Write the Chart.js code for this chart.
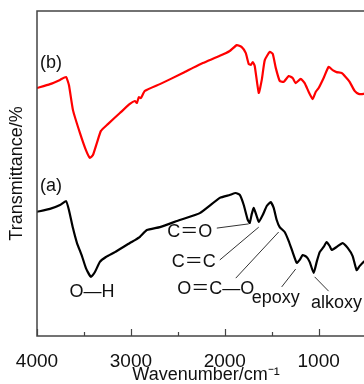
<!DOCTYPE html>
<html>
<head>
    <script src="https://cdn.jsdelivr.net/npm/chart.js@4.4.1/dist/chart.umd.min.js"></script>
    <style>
        html, body { margin: 0; padding: 0; background: #fff; overflow: hidden; }
        #wrap { width: 364px; height: 384px; overflow: hidden; }
    </style>
</head>
<body>
    <div id="wrap">
        <canvas id="ftir" width="380" height="384"></canvas>
    </div>

    <script>
        // wavenumber (cm-1) and transmittance (arbitrary, offset) for curve (b)
        const wavenumberB = [4000, 3862, 3755, 3691, 3660, 3617, 3543, 3479, 3436, 3404, 3362, 3319, 3245, 3117, 3011, 2957, 2936, 2915, 2894, 2851, 2691, 2447, 2340, 2234, 2053, 1947, 1872, 1819, 1777, 1745, 1723, 1702, 1681, 1638, 1606, 1574, 1521, 1489, 1457, 1415, 1372, 1319, 1277, 1245, 1191, 1149, 1106, 1064, 1032, 1000, 947, 894, 851, 809, 755, 713, 670, 617, 574, 521, 457, 404]
        const transB = [76.3, 77.5, 78.8, 79.7, 77.2, 69.5, 62.5, 57.2, 54.8, 55.7, 59.4, 63.1, 65.2, 68.6, 71.4, 72.3, 71.7, 73.5, 73.2, 75.4, 77.5, 80.9, 82.5, 84.0, 86.2, 87.7, 89.5, 88.9, 87.1, 83.7, 83.4, 84.3, 83.1, 74.8, 78.8, 84.9, 87.4, 86.8, 82.5, 78.5, 78.2, 80.0, 79.4, 77.8, 79.1, 77.8, 75.1, 72.9, 75.1, 76.3, 79.4, 82.8, 81.8, 81.2, 80.9, 79.7, 78.2, 75.4, 74.5, 74.5, 75.0, 75.7]

        // curve (a)
        const wavenumberA = [4000, 3862, 3755, 3691, 3660, 3617, 3574, 3521, 3479, 3426, 3383, 3330, 3266, 3170, 3011, 2957, 2904, 2830, 2691, 2479, 2266, 2053, 1947, 1883, 1840, 1798, 1755, 1734, 1713, 1691, 1660, 1638, 1596, 1553, 1511, 1479, 1447, 1415, 1362, 1319, 1277, 1234, 1202, 1170, 1128, 1096, 1053, 1021, 989, 947, 915, 883, 862, 809, 745, 691, 638, 596, 564, 521, 457, 404]
        const transA = [38.2, 39.1, 40.3, 41.5, 38.8, 33.2, 28.6, 24.6, 20.9, 18.2, 19.7, 22.8, 24.3, 25.8, 28.6, 29.5, 30.5, 32.6, 33.5, 35.7, 37.8, 42.5, 43.4, 44.0, 43.4, 40.3, 35.7, 34.8, 37.5, 39.4, 36.9, 35.1, 37.2, 40.0, 41.2, 39.4, 35.7, 33.5, 32.0, 29.2, 25.8, 22.5, 23.4, 24.9, 24.3, 22.8, 19.4, 22.8, 25.8, 27.4, 28.9, 27.7, 26.5, 27.4, 28.6, 27.1, 24.6, 20.3, 21.5, 22.8, 24.0, 24.6]

        const xTicks = [4000, 3000, 2000, 1000]

        // labels in data coordinates
        const labels = [
            { text: '(b)', x: 3851, y: 84.0 },
            { text: '(a)', x: 3851, y: 46.2 },
            { text: 'O\u2014H', x: 3415, y: 13.5 },
            { text: 'C\uFF1DO', x: 2372, y: 32.0 },
            { text: 'C\uFF1DC', x: 2330, y: 22.8 },
            { text: 'O\uFF1DC\u2014O', x: 2096, y: 14.5 },
            { text: 'epoxy', x: 1457, y: 11.7 },
            { text: 'alkoxy', x: 809, y: 10.2 }
        ]
        const leaders = [
            [2085, 33.2, 1745, 34.5],
            [2053, 23.4, 1638, 33.5],
            [1883, 17.8, 1426, 32.0],
            [1394, 15.1, 1245, 20.6],
            [1043, 18.2, 894, 13.8]
        ]

        const FONT = '"Liberation Sans", Arial, "Noto Sans CJK SC", sans-serif'

        function toPoints(xs, ys) {
            return xs.map((x, i) => ({ x: x, y: ys[i] }))
        }

        const framePlugin = {
            id: 'frame',
            afterDraw(chart) {
                const ctx = chart.ctx
                const a = chart.chartArea
                const xs = chart.scales.x
                const ys = chart.scales.y
                ctx.save()
                // box
                ctx.strokeStyle = '#444'
                ctx.lineWidth = 1.5
                ctx.strokeRect(a.left, a.top, a.right - a.left, a.bottom - a.top)
                // inward ticks, minor between majors
                ctx.lineWidth = 1.2
                for (let w = 4000; w >= 500; w -= 500) {
                    const px = Math.round(xs.getPixelForValue(w)) + 0.5
                    const len = (w % 1000 === 0) ? 7 : 4
                    ctx.beginPath()
                    ctx.moveTo(px, a.bottom)
                    ctx.lineTo(px, a.bottom - len)
                    ctx.stroke()
                }
                // leader lines
                ctx.strokeStyle = '#333'
                ctx.lineWidth = 1
                for (const l of leaders) {
                    ctx.beginPath()
                    ctx.moveTo(xs.getPixelForValue(l[0]), ys.getPixelForValue(l[1]))
                    ctx.lineTo(xs.getPixelForValue(l[2]), ys.getPixelForValue(l[3]))
                    ctx.stroke()
                }
                // texts
                ctx.fillStyle = '#111'
                ctx.font = '18px ' + FONT
                ctx.textAlign = 'center'
                ctx.textBaseline = 'middle'
                for (const t of labels) {
                    ctx.fillText(t.text, xs.getPixelForValue(t.x), ys.getPixelForValue(t.y))
                }
                ctx.restore()
            }
        }

        new Chart(document.getElementById('ftir'), {
            type: 'line',
            data: {
                datasets: [
                    {
                        label: '(b)',
                        data: toPoints(wavenumberB, transB),
                        borderColor: '#ff0000',
                        borderWidth: 2.2,
                        pointRadius: 0,
                        tension: 0.15,
                        fill: false
                    },
                    {
                        label: '(a)',
                        data: toPoints(wavenumberA, transA),
                        borderColor: '#000000',
                        borderWidth: 2.2,
                        pointRadius: 0,
                        tension: 0.15,
                        fill: false
                    }
                ]
            },
            options: {
                responsive: false,
                animation: false,
                layout: { padding: { top: 11, right: 5, bottom: 0, left: 0 } },
                plugins: {
                    legend: { display: false },
                    tooltip: { enabled: false }
                },
                scales: {
                    x: {
                        type: 'linear',
                        reverse: true,
                        min: 400,
                        max: 4000,
                        border: { display: false },
                        grid: { display: false, drawTicks: false },
                        afterBuildTicks(scale) {
                            scale.ticks = xTicks.map(v => ({ value: v }))
                        },
                        afterFit(scale) { scale.height = 48 },
                        ticks: {
                            padding: 14,
                            color: '#111',
                            font: { family: FONT, size: 19 },
                            callback: v => String(v)
                        },
                        title: {
                            display: true,
                            text: 'Wavenumber/cm\u207B\u00B9',
                            color: '#111',
                            padding: 0,
                            font: { family: FONT, size: 18, lineHeight: 1.0 }
                        }
                    },
                    y: {
                        min: 0,
                        max: 100,
                        border: { display: false },
                        grid: { display: false, drawTicks: false },
                        ticks: { display: false },
                        afterFit(scale) { scale.width = 37 },
                        title: {
                            display: true,
                            text: 'Transmittance/%',
                            color: '#111',
                            padding: { top: 6, bottom: 0 },
                            font: { family: FONT, size: 18, lineHeight: 1.2 }
                        }
                    }
                }
            },
            plugins: [framePlugin]
        })
    </script>
</body>
</html>
